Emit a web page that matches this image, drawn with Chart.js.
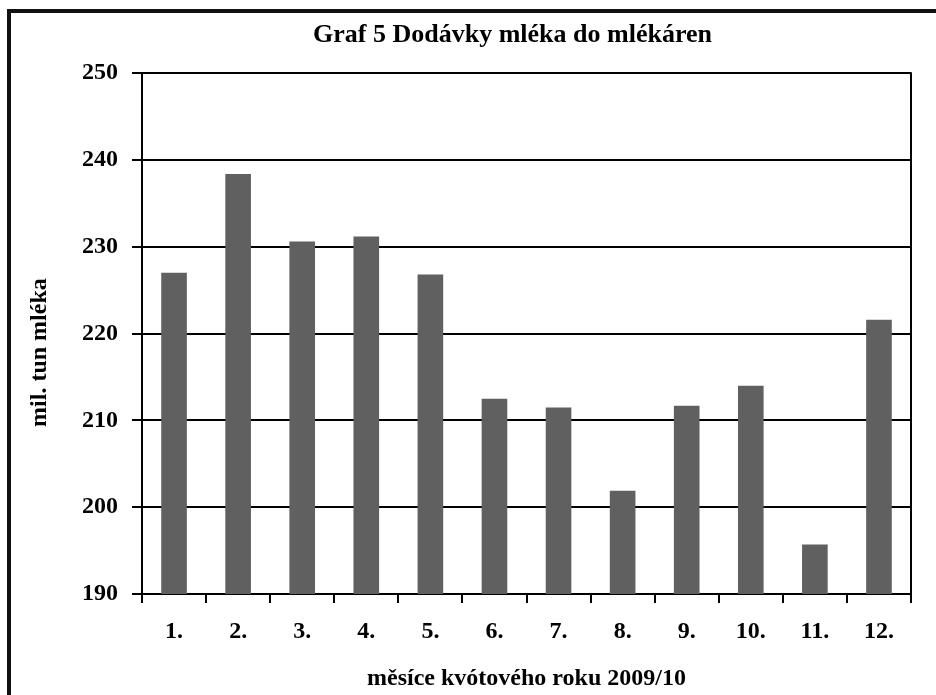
<!DOCTYPE html>
<html>
<head>
<meta charset="utf-8">
<script src="https://cdn.jsdelivr.net/npm/chart.js@4.4.1/dist/chart.umd.min.js"></script>
<style>
    html, body { margin: 0; padding: 0; background: #fff; overflow: hidden; }
    #wrap { position: relative; width: 936px; height: 695px; }
    #frame {
        position: absolute; left: 7px; top: 9px;
        width: 1000px; height: 1000px;
        border: 4px solid #111; pointer-events: none;
    }
    canvas { position: absolute; left: 0; top: 0; }
</style>
</head>
<body>
<div id="wrap">
    <canvas id="milkChart" width="936" height="695"></canvas>
    <div id="frame"></div>
</div>
<script>
// Data
const months = ['1.', '2.', '3.', '4.', '5.', '6.', '7.', '8.', '9.', '10.', '11.', '12.'];
const deliveries = [227.0, 238.4, 230.6, 231.2, 226.8, 212.5, 211.5, 201.9, 211.7, 214.0, 195.7, 221.6];
const yMin = 190;
const yMax = 250;
const yStep = 10;

const chartTitle = 'Graf 5 Dodávky mléka do mlékáren';
const xTitle = 'měsíce kvótového roku 2009/10';
const yTitle = 'mil. tun mléka';

const serif = "'Liberation Serif', 'Times New Roman', serif";

// right border of plot area + y axis caption, title nudged to the left
const extras = {
    id: 'extras',
    afterLayout(chart) {
        if (chart.titleBlock) {
            chart.titleBlock.left -= 14;
            chart.titleBlock.right -= 14;
        }
    },
    afterDraw(chart) {
        const { ctx, chartArea } = chart;
        ctx.save();
        ctx.strokeStyle = '#000';
        ctx.lineWidth = 2;
        ctx.beginPath();
        ctx.moveTo(chartArea.right, chartArea.top - 1);
        ctx.lineTo(chartArea.right, chartArea.bottom);
        ctx.stroke();

        // y axis caption
        ctx.translate(40, (chartArea.top + chartArea.bottom) / 2 + 19);
        ctx.rotate(-Math.PI / 2);
        ctx.fillStyle = '#000';
        ctx.font = 'bold 24px ' + serif;
        ctx.textAlign = 'center';
        ctx.textBaseline = 'middle';
        ctx.fillText(yTitle, 0, 0);
        ctx.restore();
    }
};

new Chart(document.getElementById('milkChart'), {
    type: 'bar',
    data: {
        labels: months,
        datasets: [{
            data: deliveries,
            backgroundColor: '#606060',
            borderWidth: 0,
            barPercentage: 0.4,
            categoryPercentage: 1
        }]
    },
    options: {
        responsive: false,
        animation: false,
        layout: {
            padding: { left: 0, right: 25, top: 0, bottom: 0 }
        },
        plugins: {
            legend: { display: false },
            tooltip: { enabled: false },
            title: {
                display: true,
                fullSize: false,
                text: chartTitle,
                color: '#000',
                font: { family: serif, size: 26, weight: 'bold' },
                padding: { top: 20, bottom: 22 }
            }
        },
        scales: {
            x: {
                afterFit: scale => { scale.height = 101; },
                grid: {
                    display: true,
                    drawOnChartArea: false,
                    drawTicks: true,
                    tickLength: 9,
                    color: '#000',
                    lineWidth: 2
                },
                border: { display: true, color: '#000', width: 2 },
                ticks: {
                    color: '#000',
                    padding: 14,
                    font: { family: serif, size: 24, weight: 'bold' }
                },
                title: {
                    display: true,
                    text: xTitle,
                    color: '#000',
                    font: { family: serif, size: 24, weight: 'bold' },
                    padding: { top: 0, bottom: 2 }
                }
            },
            y: {
                min: yMin,
                max: yMax,
                afterFit: scale => { scale.width = 142; },
                grid: {
                    color: '#000',
                    lineWidth: 2,
                    drawTicks: true,
                    tickLength: 10
                },
                border: { display: true, color: '#000', width: 2 },
                ticks: {
                    stepSize: yStep,
                    color: '#000',
                    padding: 14,
                    font: { family: serif, size: 24, weight: 'bold' }
                }
            }
        }
    },
    plugins: [extras]
});
</script>
</body>
</html>
